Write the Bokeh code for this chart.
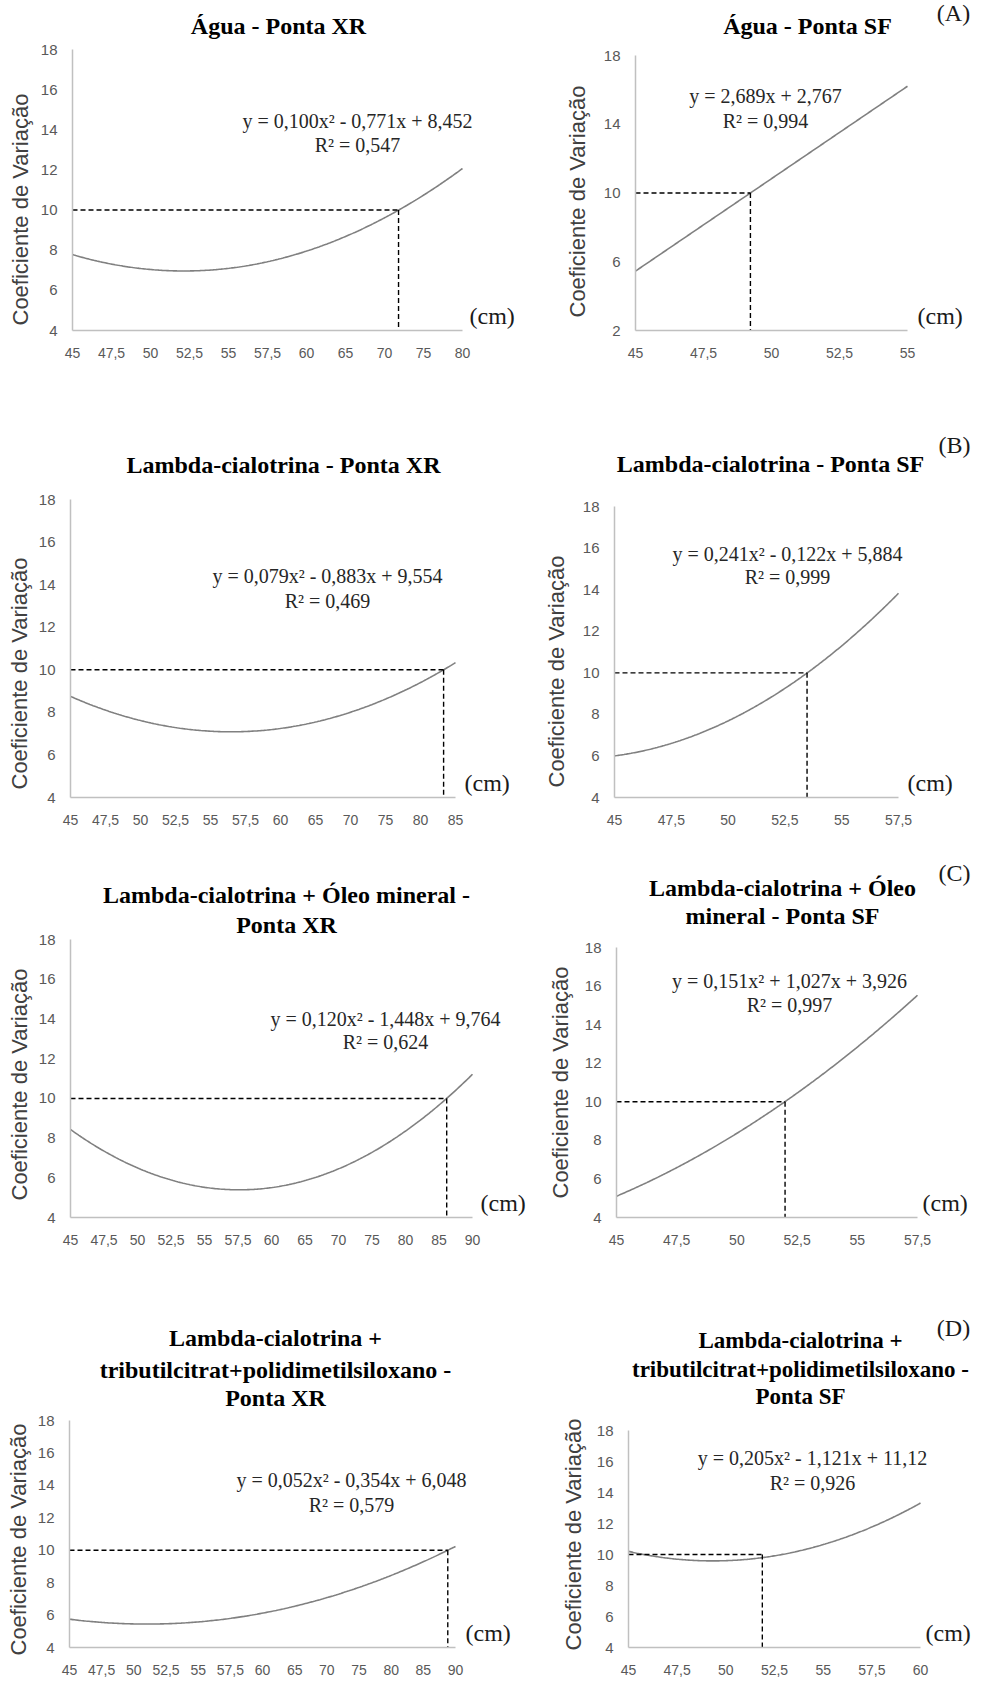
import numpy as np
from bokeh.plotting import figure
from bokeh.models import Range1d, FixedTicker, Label, Title
from bokeh.layouts import column, row
from bokeh.embed import file_html
from bokeh.resources import INLINE

# ---------------- data ----------------
cats_agua_xr = ["45", "47,5", "50", "52,5", "55", "57,5", "60", "65", "70", "75", "80"]
cats_agua_sf = ["45", "47,5", "50", "52,5", "55"]
cats_lambda_xr = ["45", "47,5", "50", "52,5", "55", "57,5", "60", "65", "70", "75", "80", "85"]
cats_lambda_sf = ["45", "47,5", "50", "52,5", "55", "57,5"]
cats_oleo_xr = ["45", "47,5", "50", "52,5", "55", "57,5", "60", "65", "70", "75", "80", "85", "90"]
cats_oleo_sf = ["45", "47,5", "50", "52,5", "55", "57,5"]
cats_trib_xr = ["45", "47,5", "50", "52,5", "55", "57,5", "60", "65", "70", "75", "80", "85", "90"]
cats_trib_sf = ["45", "47,5", "50", "52,5", "55", "57,5", "60"]

# trend-line coefficients printed on each panel (a, b, c of y = a x^2 + b x + c, x = category index)
coef_agua_xr = [0.100, -0.771, 8.452]
coef_agua_sf = [0.0, 2.689, 2.767]
coef_lambda_xr = [0.079, -0.883, 9.554]
coef_lambda_sf = [0.241, -0.122, 5.884]
coef_oleo_xr = [0.120, -1.448, 9.764]
coef_oleo_sf = [0.151, 1.027, 3.926]
coef_trib_xr = [0.052, -0.354, 6.048]
coef_trib_sf = [0.205, -1.121, 11.12]

# category position where the CV = 10 reference meets the curve
cross_x = [9.36, 2.69, 11.66, 4.39, 12.23, 3.80, 12.76, 3.75]
cv_ref = 10

yticks_std = [4, 6, 8, 10, 12, 14, 16, 18]
yticks_agua_sf = [2, 6, 10, 14, 18]

titles = [
    ["Água - Ponta XR"],
    ["Água - Ponta SF"],
    ["Lambda-cialotrina - Ponta XR"],
    ["Lambda-cialotrina - Ponta SF"],
    ["Lambda-cialotrina + Óleo mineral -", "Ponta XR"],
    ["Lambda-cialotrina + Óleo", "mineral - Ponta SF"],
    ["Lambda-cialotrina +", "tributilcitrat+polidimetilsiloxano -", "Ponta XR"],
    ["Lambda-cialotrina +", "tributilcitrat+polidimetilsiloxano -", "Ponta SF"],
]
equations = [
    ["y = 0,100x² - 0,771x + 8,452", "R² = 0,547"],
    ["y = 2,689x + 2,767", "R² = 0,994"],
    ["y = 0,079x² - 0,883x + 9,554", "R² = 0,469"],
    ["y = 0,241x² - 0,122x + 5,884", "R² = 0,999"],
    ["y = 0,120x² - 1,448x + 9,764", "R² = 0,624"],
    ["y = 0,151x² + 1,027x + 3,926", "R² = 0,997"],
    ["y = 0,052x² - 0,354x + 6,048", "R² = 0,579"],
    ["y = 0,205x² - 1,121x + 11,12", "R² = 0,926"],
]
group_letters = ["(A)", "(B)", "(C)", "(D)"]
y_label = "Coeficiente de Variação"
x_unit = "(cm)"

# ---------------- layout (page pixels) ----------------
ROWS = [(8, 395), (395, 855), (855, 1285), (1285, 1690)]
COLS = [(8, 538), (538, 982)]
YLABEL_LEN = 240  # approx. length of the y label at 22px

# axis frame L, R, T, B ; title centre x, line ys and size ; eq centre x & ys ; (cm) left x ;
# y-label centre y (yc) and standoff (st)
geoms = [
    dict(frame=(80, 470, 57, 338), tx=286, ty=[33], tfs=24, ex=365, ey=[128, 152], cm=477, yc=213, st=8),
    dict(frame=(643, 915, 63, 338), tx=815, ty=[33], tfs=24, ex=773, ey=[103, 128], cm=925, yc=205, st=20),
    dict(frame=(78, 463, 507, 805), tx=291, ty=[472], tfs=24, ex=335, ey=[583, 608], cm=472, yc=677, st=6),
    dict(frame=(622, 906, 515, 808), tx=778, ty=[472], tfs=24, ex=795, ey=[562, 585], cm=915, yc=678, st=20),
    dict(frame=(78, 480, 948, 1228), tx=294, ty=[903, 933], tfs=24, ex=393, ey=[1027, 1050], cm=488, yc=1091, st=6),
    dict(frame=(624, 925, 955, 1225), tx=790, ty=[895, 923], tfs=24, ex=797, ey=[988, 1012], cm=930, yc=1086, st=16),
    dict(frame=(77, 463, 1428, 1655), tx=283, ty=[1345, 1377, 1405], tfs=24, ex=359, ey=[1487, 1512], cm=473, yc=1543, st=5),
    dict(frame=(636, 928, 1438, 1655), tx=808, ty=[1348, 1377, 1404], tfs=23, ex=820, ey=[1465, 1490], cm=933, yc=1538, st=14),
]
letter_pos = [(961, 20), (962, 453), (962, 880), (961, 1335)]

panels = [
    (cats_agua_xr, coef_agua_xr, yticks_std),
    (cats_agua_sf, coef_agua_sf, yticks_agua_sf),
    (cats_lambda_xr, coef_lambda_xr, yticks_std),
    (cats_lambda_sf, coef_lambda_sf, yticks_std),
    (cats_oleo_xr, coef_oleo_xr, yticks_std),
    (cats_oleo_sf, coef_oleo_sf, yticks_std),
    (cats_trib_xr, coef_trib_xr, yticks_std),
    (cats_trib_sf, coef_trib_sf, yticks_std),
]

SERIF = "Liberation Serif"
SANS = "Liberation Sans"


def make_panel(k):
    cats, coef, yticks = panels[k]
    g = geoms[k]
    rowi, col = divmod(k, 2)
    L, R, T, B = g["frame"]
    x0, x1 = COLS[col]
    y0, y1 = ROWS[rowi]
    n = len(cats)
    ymin, ymax = yticks[0], yticks[-1]

    # the plotting frame is extended to the top and right edges of the figure so that
    # titles, equations and the unit label are drawn inside it; the axes keep their bounds
    x_end = n + (x1 - R) * (n - 1) / (R - L)
    y_end = ymax + (T - y0) * (ymax - ymin) / (B - T)

    p = figure(width=x1 - x0, height=y1 - y0,
               x_range=Range1d(1, x_end), y_range=Range1d(ymin, y_end),
               min_border_left=L - x0, min_border_right=0,
               min_border_top=0, min_border_bottom=y1 - B,
               output_backend="svg", toolbar_location=None, title=None)
    p.grid.visible = False
    p.outline_line_color = None
    p.background_fill_color = "white"
    p.border_fill_color = "white"

    xa = p.xaxis[0]
    xa.ticker = FixedTicker(ticks=list(range(1, n + 1)))
    xa.major_label_overrides = {i + 1: c for i, c in enumerate(cats)}
    xa.bounds = (1, n)
    ya = p.yaxis[0]
    ya.ticker = FixedTicker(ticks=yticks)
    ya.bounds = (ymin, ymax)
    for ax in (xa, ya):
        ax.axis_line_color = "#c0c0c0"
        ax.axis_line_width = 1.5
        ax.major_tick_line_color = None
        ax.minor_tick_line_color = None
        ax.major_tick_out = 0
        ax.major_tick_in = 0
        ax.major_label_text_font = SANS
        ax.major_label_text_color = "#595959"
    xa.major_label_text_font_size = "14px"
    xa.major_label_standoff = 17
    ya.major_label_text_font_size = "15px"
    ya.major_label_standoff = 15

    # y-axis title (rotated), placed in the left side panel
    off = B - (g["yc"] + YLABEL_LEN / 2)
    p.add_layout(Title(text=y_label, align="left", offset=off, vertical_align="middle",
                       standoff=g["st"], text_font=SANS, text_font_size="22px",
                       text_font_style="normal", text_color="#404040"), "left")

    # trend curve from the printed coefficients
    xs = np.linspace(1, n, 240)
    ys = np.polyval(coef, xs)
    p.line(xs, ys, line_color="#808080", line_width=1.6)

    # dashed reference lines at CV = 10
    cx = cross_x[k]
    p.line([1, cx], [cv_ref, cv_ref], line_color="black", line_width=1.4, line_dash="5 3")
    p.line([cx, cx], [cv_ref, ymin], line_color="black", line_width=1.4, line_dash="5 3")

    # chart title (one label per line)
    for txt, ty in zip(titles[k], g["ty"]):
        p.add_layout(Label(x=1, y=ymax, x_offset=g["tx"] - L, y_offset=T - ty, text=txt,
                           text_align="center", text_baseline="middle",
                           text_font=SERIF, text_font_style="bold",
                           text_font_size=f"{g['tfs']}px", text_color="black"))
    # equation and R²
    for txt, ey in zip(equations[k], g["ey"]):
        p.add_layout(Label(x=1, y=ymax, x_offset=g["ex"] - L, y_offset=T - ey, text=txt,
                           text_align="center", text_baseline="middle",
                           text_font=SERIF, text_font_size="20px", text_color="#262626"))
    # unit label at the end of the x axis (sits just on the axis line)
    p.add_layout(Label(x=n, y=ymin, x_offset=g["cm"] - R, y_offset=2, text=x_unit,
                       text_align="left", text_baseline="bottom",
                       text_font=SERIF, text_font_size="24px", text_color="#1a1a1a"))
    # group letter
    if col == 1:
        lx, ly = letter_pos[rowi]
        p.add_layout(Label(x=1, y=ymax, x_offset=lx - L, y_offset=T - ly, text=group_letters[rowi],
                           text_align="center", text_baseline="middle",
                           text_font=SERIF, text_font_size="24px", text_color="#1a1a1a"))
    return p


figs = [make_panel(k) for k in range(8)]
layout = column(
    row(figs[0], figs[1], spacing=0),
    row(figs[2], figs[3], spacing=0),
    row(figs[4], figs[5], spacing=0),
    row(figs[6], figs[7], spacing=0),
    spacing=0,
)

open("out.html", "w").write(file_html(layout, INLINE))
